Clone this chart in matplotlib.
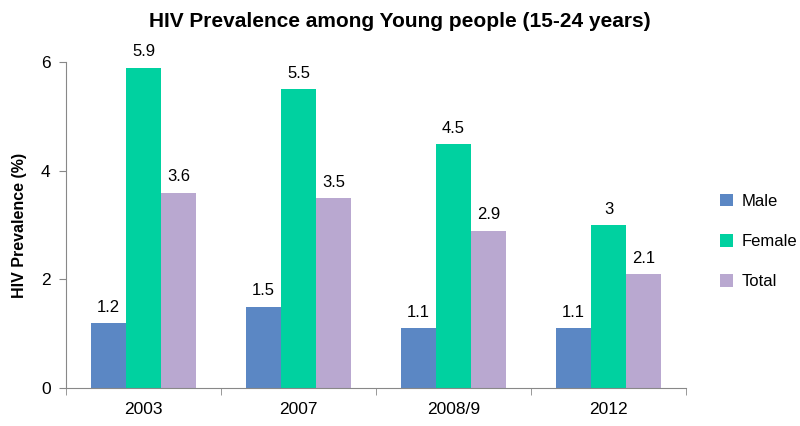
import matplotlib.pyplot as plt
import numpy as np

years = ['2003', '2007', '2008/9', '2012']
male = [1.2, 1.5, 1.1, 1.1]
female = [5.9, 5.5, 4.5, 3]
total = [3.6, 3.5, 2.9, 2.1]

plt.rcParams['font.family'] = ['Liberation Sans', 'DejaVu Sans']

fig = plt.figure(figsize=(8, 4.26), dpi=100)
ax = fig.add_axes([0.0825, 0.089, 0.775, 0.765])

x = np.arange(len(years))
w = 0.225
series = [('Male', male, '#5b87c4'), ('Female', female, '#00d1a0'), ('Total', total, '#b9a8d0')]
for i, (name, vals, col) in enumerate(series):
    bars = ax.bar(x + (i - 1) * w, vals, w, color=col, label=name)
    for b, v in zip(bars, vals):
        ax.text(b.get_x() + b.get_width() / 2, v + 0.15, f'{v:g}',
                ha='center', va='bottom', fontsize=12)

ax.set_xlim(-0.5, len(years) - 0.5)
ax.set_ylim(0, 6)
ax.set_yticks([0, 2, 4, 6])
ax.set_xticks(x)
ax.set_xticklabels(years)
ax.set_xticks(np.arange(-0.5, len(years)), minor=True)
ax.tick_params(axis='x', which='major', length=0, pad=10, labelsize=12.5)
ax.tick_params(axis='x', which='minor', length=5, color='#888888')
ax.tick_params(axis='y', length=5, color='#888888', labelsize=12.5, pad=6)

for s in ['top', 'right']:
    ax.spines[s].set_visible(False)
for s in ['left', 'bottom']:
    ax.spines[s].set_color('#888888')

ax.set_ylabel('HIV Prevalence (%)', fontsize=11.5, fontweight='bold', labelpad=10)
fig.text(0.5, 0.95, 'HIV Prevalence among Young people (15-24 years)', fontsize=15,
         fontweight='bold', ha='center', va='center')

ax.legend(loc='center left', bbox_to_anchor=(1.03, 0.45), frameon=False,
          fontsize=12, handlelength=0.8, handleheight=0.8, labelspacing=1.5,
          handletextpad=0.5)

fig.savefig('out.png')
